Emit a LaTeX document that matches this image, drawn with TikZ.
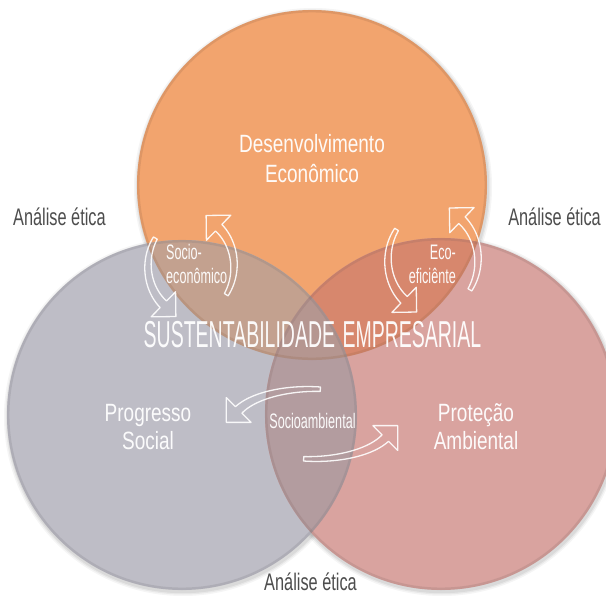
\documentclass[tikz,border=0pt]{standalone}
\usepackage{fontspec}
\setmainfont{Liberation Sans}
\newfontfamily\agBig[FakeStretch=0.76]{Liberation Sans}
\newfontfamily\agTitle[FakeStretch=0.52]{Liberation Sans}
\newfontfamily\agSmall[FakeStretch=0.6]{Liberation Sans}
\newfontfamily\agEt[FakeStretch=0.68]{Liberation Sans}
\definecolor{cOr}{HTML}{F2A46E}
\definecolor{cGr}{HTML}{BEBDC6}
\definecolor{cPk}{HTML}{D9A39F}
\definecolor{cOG}{HTML}{C3A18F}
\definecolor{cOP}{HTML}{D7876D}
\definecolor{cGP}{HTML}{B39C9F}
\definecolor{cTr}{HTML}{B59690}
\definecolor{cEt}{HTML}{4D4D4D}
\def\hWa{2.2}\def\hWb{4.6}\def\hHd{17.5}\def\hLn{17.5}
\newcommand\hollowarc[6]{%
\pgfmathsetmacro\hCX{#1}%
\pgfmathsetmacro\hCY{#2}%
\pgfmathsetmacro\hRX{#3}%
\pgfmathsetmacro\hRY{#4}%
\pgfmathsetmacro\hTA{#5}%
\pgfmathsetmacro\hTB{#6}%
\pgfmathsetmacro\hN{sqrt((\hRY*cos(\hTB))^2+(\hRX*sin(\hTB))^2)}%
\pgfmathsetmacro\hBx{\hCX+\hRX*cos(\hTB)}%
\pgfmathsetmacro\hBy{\hCY+\hRY*sin(\hTB)}%
\pgfmathsetmacro\hNx{\hRY*cos(\hTB)/\hN}%
\pgfmathsetmacro\hNy{\hRX*sin(\hTB)/\hN}%
\pgfmathsetmacro\hTx{\hRX*sin(\hTB)/\hN}%
\pgfmathsetmacro\hTy{0-\hRY*cos(\hTB)/\hN}%
\draw[arrline] plot[domain=\hTA:\hTB,samples=40,variable=\q]
 ({\hCX+\hRX*cos(\q)+(\hWa+(\hWb-\hWa)*(\hTA-(\q))/(\hTA-(\hTB)))*\hRY*cos(\q)/sqrt((\hRY*cos(\q))^2+(\hRX*sin(\q))^2)},
  {\hCY+\hRY*sin(\q)+(\hWa+(\hWb-\hWa)*(\hTA-(\q))/(\hTA-(\hTB)))*\hRX*sin(\q)/sqrt((\hRY*cos(\q))^2+(\hRX*sin(\q))^2)})
 -- ({\hBx+\hHd*(\hNx)},{\hBy+\hHd*(\hNy)})
 -- ({\hBx+\hLn*(\hTx)},{\hBy+\hLn*(\hTy)})
 -- ({\hBx-\hHd*(\hNx)},{\hBy-\hHd*(\hNy)})
 -- plot[domain=\hTB:\hTA,samples=40,variable=\q]
 ({\hCX+\hRX*cos(\q)-(\hWa+(\hWb-\hWa)*(\hTA-(\q))/(\hTA-(\hTB)))*\hRY*cos(\q)/sqrt((\hRY*cos(\q))^2+(\hRX*sin(\q))^2)},
  {\hCY+\hRY*sin(\q)-(\hWa+(\hWb-\hWa)*(\hTA-(\q))/(\hTA-(\hTB)))*\hRX*sin(\q)/sqrt((\hRY*cos(\q))^2+(\hRX*sin(\q))^2)})
 -- cycle;}
\begin{document}
\begin{tikzpicture}[x=1pt,y=-1pt,
  lbl/.style={inner sep=0pt,text=white,opacity=0.95},
  etica/.style={inner sep=0pt,text=cEt,font=\agEt\fontsize{24}{28}\selectfont},
  big/.style={lbl,font=\agBig\fontsize{25}{30}\selectfont},
  small/.style={lbl,font=\agSmall\fontsize{21}{25}\selectfont},
  arrline/.style={draw=white,line width=1.3pt,line join=round,opacity=0.9},
  rim/.style={line width=2.5pt,opacity=0.2}]
\useasboundingbox (0,0) rectangle (606,597);
\fill[white] (0,0) rectangle (606,597);
\coordinate (O) at (312,185);
\coordinate (G) at (182,415);
\coordinate (P) at (441,414);
% soft shadows
\foreach \s/\o in {4/0.04,2.5/0.05,1.2/0.06}{
  \fill[black,opacity=\o] ([shift={(1,2)}]G) circle[radius=175pt+\s pt];
  \fill[black,opacity=\o] ([shift={(1,2)}]P) circle[radius=176pt+\s pt];
  \fill[black,opacity=\o] ([shift={(1,2)}]O) circle[radius=175pt+\s pt];
}
% circles
\fill[cOr] (O) circle[radius=175pt];
\fill[cGr] (G) circle[radius=175pt];
\fill[cPk] (P) circle[radius=176pt];
\begin{scope}\clip (O) circle[radius=175pt]; \fill[cOG] (G) circle[radius=175pt];\end{scope}
\begin{scope}\clip (O) circle[radius=175pt]; \fill[cOP] (P) circle[radius=176pt];\end{scope}
\begin{scope}\clip (G) circle[radius=175pt]; \fill[cGP] (P) circle[radius=176pt];\end{scope}
\begin{scope}\clip (O) circle[radius=175pt]; \clip (G) circle[radius=175pt]; \fill[cTr] (P) circle[radius=176pt];\end{scope}
% rims
\draw[rim,draw=cOr!60!black] (O) circle[radius=173.8pt];
\draw[rim,draw=cGr!60!black] (G) circle[radius=173.8pt];
\draw[rim,draw=cPk!60!black] (P) circle[radius=174.8pt];
% hollow arrows
\hollowarc{191}{266}{43}{50}{35}{-50}
\hollowarc{191}{266}{43}{50}{214}{130}
\hollowarc{433}{260}{45}{52}{35}{-50}
\hollowarc{433}{260}{45}{52}{216}{130}
\hollowarc{312}{424}{80}{35}{276}{203.6}
\hollowarc{312}{424}{80}{35}{96}{23.6}
% texts
\node[big,anchor=base] (des) at (312,152) {Desenvolvimento};
\node[big,anchor=base] (eco) at (312,182) {Econômico};
\node[big,anchor=base] (pro) at (148,421) {Progresso};
\node[big,anchor=base] (soc) at (148,449) {Social};
\node[big,anchor=base] (prt) at (476,421) {Proteção};
\node[big,anchor=base] (amb) at (476,449) {Ambiental};
\node[lbl,anchor=base,font=\agTitle\fontsize{37.5}{40}\selectfont] (sus) at (312.5,347) {SUSTENTABILIDADE\hspace{2pt} EMPRESARIAL};
\node[small,anchor=base west] (se1) at (166,259) {Socio-};
\node[small,anchor=base west] (se2) at (166,283) {econômico};
\node[small,anchor=base east] (ef1) at (456,259) {Eco-};
\node[small,anchor=base east] (ef2) at (456,283) {eficiênte};
\node[small,anchor=base] (sam) at (312.5,428) {Socioambiental};
\node[etica,anchor=base west] (etL) at (13,225) {Análise ética};
\node[etica,anchor=base east] (etR) at (601,225) {Análise ética};
\node[etica,anchor=base] (etB) at (310.5,590) {Análise ética};
\end{tikzpicture}
\end{document}
